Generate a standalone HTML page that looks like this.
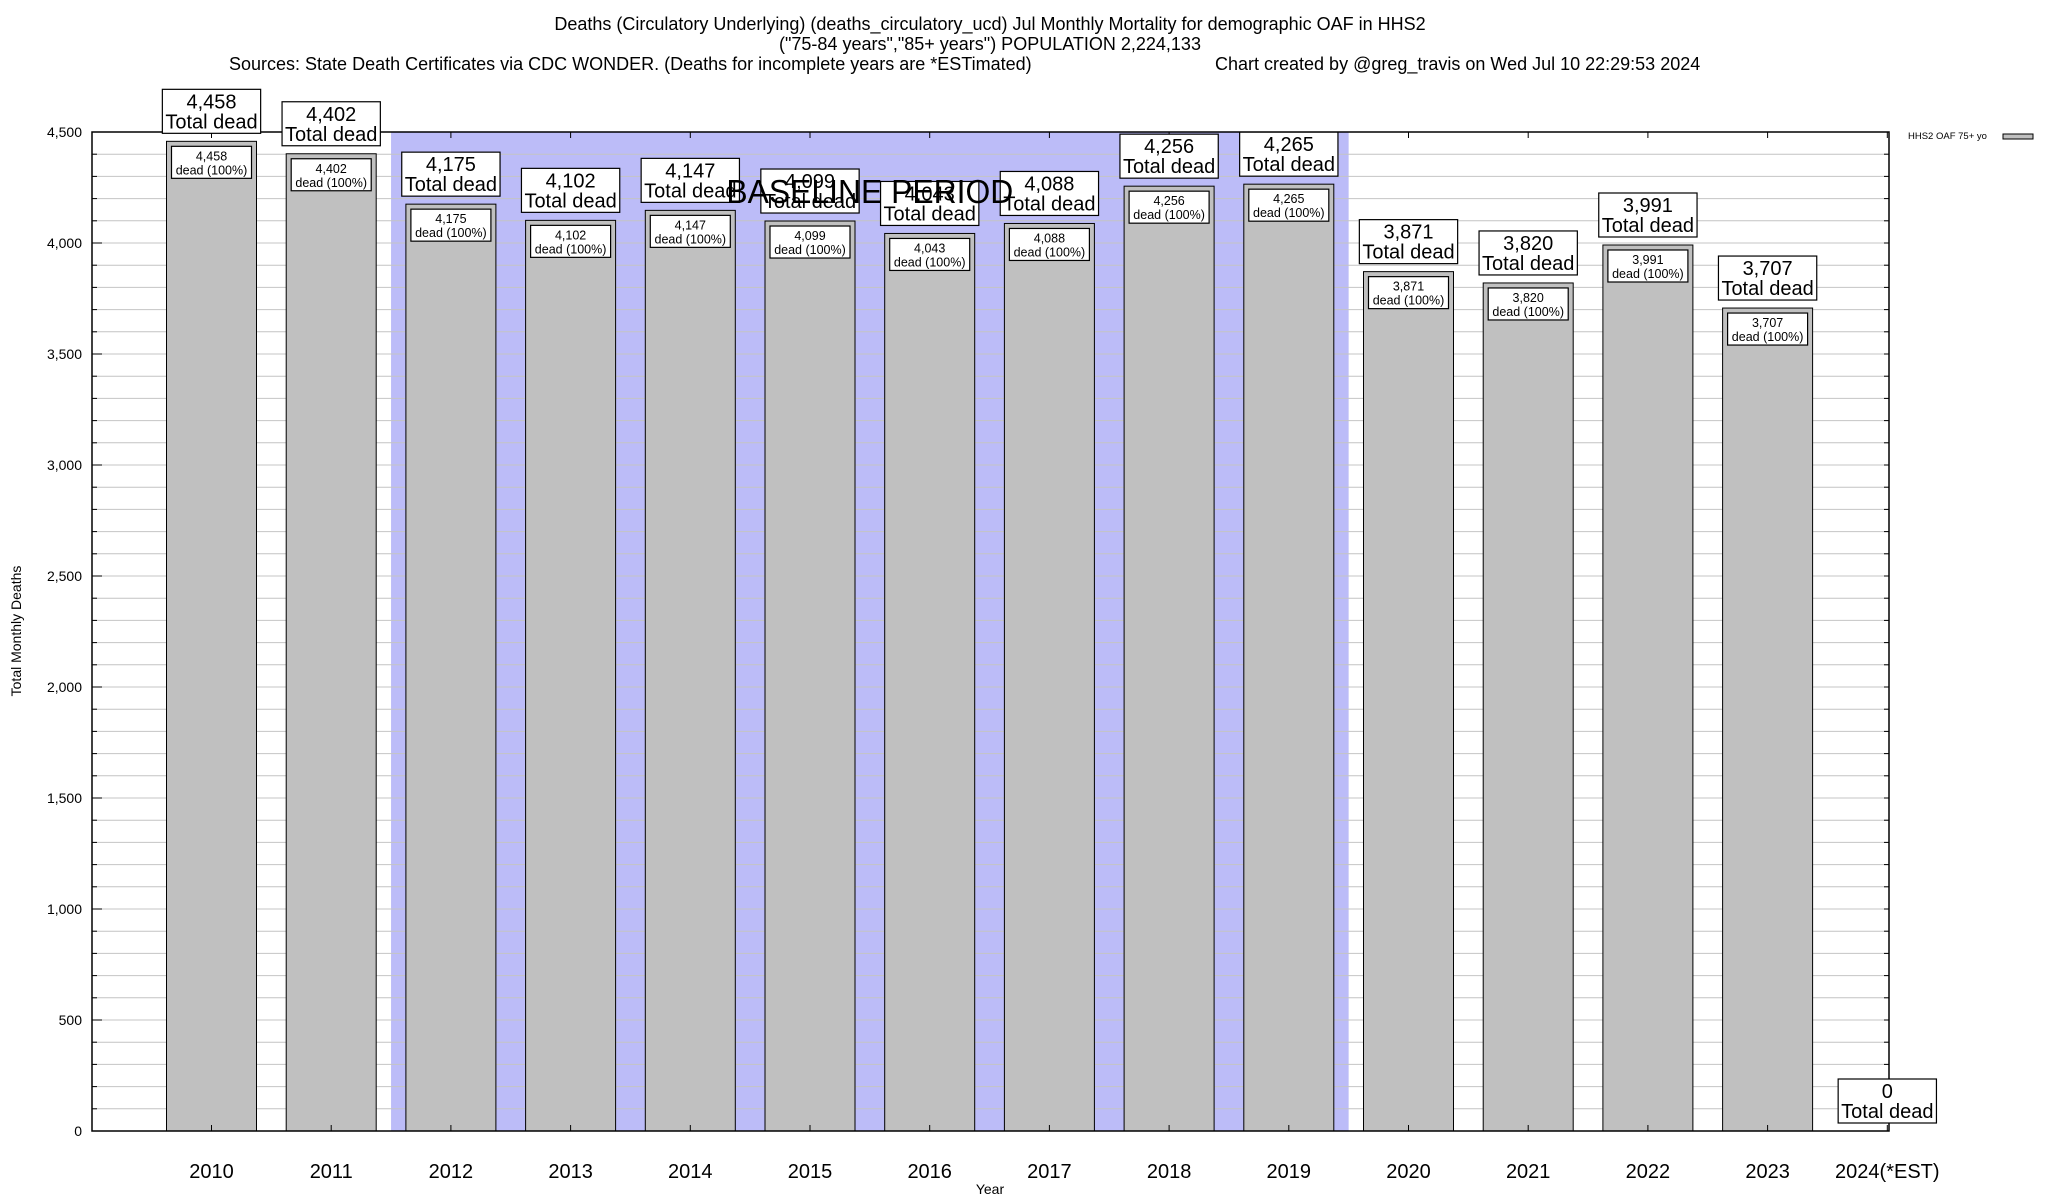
<!DOCTYPE html>
<html><head><meta charset="utf-8"><style>
html,body{margin:0;padding:0;background:#fff;}
svg{display:block;font-family:"Liberation Sans",Arial,sans-serif;}
</style></head><body>
<svg id="chart" width="2048" height="1200" viewBox="0 0 2048 1200" xmlns="http://www.w3.org/2000/svg">
<text x="990" y="30" font-size="18" text-anchor="middle">Deaths (Circulatory Underlying) (deaths_circulatory_ucd) Jul Monthly Mortality for demographic OAF in HHS2</text>
<text x="990" y="50" font-size="18" text-anchor="middle">("75-84 years","85+ years") POPULATION 2,224,133</text>
<text x="229" y="70" font-size="18">Sources: State Death Certificates via CDC WONDER. (Deaths for incomplete years are *ESTimated)</text>
<text x="1215" y="70" font-size="18">Chart created by @greg_travis on Wed Jul 10 22:29:53 2024</text>
<g id="plot"></g>
<text x="1908" y="139" font-size="9.5">HHS2 OAF 75+ yo</text>
<rect x="2003" y="134" width="30" height="5" fill="#c0c0c0" stroke="#000" stroke-width="1"/>
<text x="990" y="1194" font-size="14" text-anchor="middle">Year</text>
<text x="0" y="0" font-size="14" text-anchor="middle" transform="translate(21,631) rotate(-90)">Total Monthly Deaths</text>
</svg>
<script>
const categories = ["2010","2011","2012","2013","2014","2015","2016","2017","2018","2019","2020","2021","2022","2023","2024(*EST)"];
const values = [4458,4402,4175,4102,4147,4099,4043,4088,4256,4265,3871,3820,3991,3707,0];
const yTicks = [0,500,1000,1500,2000,2500,3000,3500,4000,4500];
const baselineRange = ["2012","2019"];

const NS="http://www.w3.org/2000/svg";
const L=92,R=1889,T=132,B=1131,yMax=4500;
const x0=211.5, step=119.7, barW=90;
function xPos(i){return x0+i*step;}
function yPos(v){return B-(v/yMax)*(B-T);}
const g=document.getElementById('plot');
function mk(tag,attrs,parent){const e=document.createElementNS(NS,tag);for(const k in attrs)e.setAttribute(k,attrs[k]);(parent||g).appendChild(e);return e;}
function fmt(v){return v.toLocaleString('en-US');}

// baseline shading
const bi0=categories.indexOf(baselineRange[0]), bi1=categories.indexOf(baselineRange[1]);
const shade=mk('rect',{x:xPos(bi0)-step/2,y:T,width:(bi1-bi0+1)*step,height:B-T,fill:'#bcbcf8'});



// gridlines every 100
for(let v=100;v<yMax;v+=100){
  const gl=mk('line',{x1:L,x2:R,y1:yPos(v),y2:yPos(v),stroke:'#c4c4c4','stroke-width':1});
  
  
  const t1=mk('line',{x1:L,x2:L+5,y1:yPos(v),y2:yPos(v),stroke:'#000','stroke-width':1});
  
  
  const t2=mk('line',{x1:R-5,x2:R,y1:yPos(v),y2:yPos(v),stroke:'#000','stroke-width':1});
  
  
}
yTicks.forEach(v=>{
  const t=mk('text',{x:82,y:yPos(v)+5,'font-size':14,'text-anchor':'end'});
  t.textContent=fmt(v);
  
  
  const tk=mk('line',{x1:L,x2:L+10,y1:yPos(v),y2:yPos(v),stroke:'#000','stroke-width':1});
  
  
});

// baseline label
const bl=mk('text',{x:(xPos(bi0)+xPos(bi1))/2,y:203,'font-size':33,'text-anchor':'middle',textLength:287,lengthAdjust:'spacingAndGlyphs'});
bl.textContent='BASELINE PERIOD';



// bars
categories.forEach((c,i)=>{
  const cx=xPos(i), v=values[i];
  if(v>0){
    const b=mk('rect',{x:cx-barW/2,y:yPos(v),width:barW,height:B-yPos(v),fill:'#c0c0c0',stroke:'#000','stroke-width':1});
    
    
  }
  const tk=mk('line',{x1:cx,x2:cx,y1:B,y2:B-6,stroke:'#000'});
  
  
  const tk2=mk('line',{x1:cx,x2:cx,y1:T,y2:T+6,stroke:'#000'});
  
  
  const xl=mk('text',{x:cx,y:1178,'font-size':20,'text-anchor':'middle'});
  xl.textContent=c;
  
  
});

// axis frame
const fr=mk('rect',{x:L,y:T,width:R-L,height:B-T,fill:'none',stroke:'#000','stroke-width':1.5});



// labels
categories.forEach((c,i)=>{
  const cx=xPos(i), v=values[i], top=yPos(v);
  if(v>0){
    const ig=mk('g',{});
    
    
    mk('rect',{x:cx-40,y:top+5,width:80,height:32,fill:'#fff',stroke:'#000','stroke-width':1.2},ig);
    const a=mk('text',{x:cx,y:top+19,'font-size':12.5,'text-anchor':'middle'},ig);a.textContent=fmt(v);
    const b=mk('text',{x:cx,y:top+33,'font-size':12.5,'text-anchor':'middle'},ig);b.textContent='dead (100%)';
  }
  const og=mk('g',{});
  
  
  const bx=mk('rect',{x:cx-51,y:top-52,width:102,height:44,fill:'#fff',stroke:'#000','stroke-width':1.2},og);
  const a=mk('text',{x:cx,y:top-33,'font-size':20,'text-anchor':'middle'},og);a.textContent=fmt(v);
  const b=mk('text',{x:cx,y:top-13,'font-size':20,'text-anchor':'middle'},og);b.textContent='Total dead';
  try{const w=b.getComputedTextLength()+6;bx.setAttribute('x',cx-w/2);bx.setAttribute('width',w);}catch(e){}
});
// bring baseline label to front
g.appendChild(bl);
</script>
</body></html>
